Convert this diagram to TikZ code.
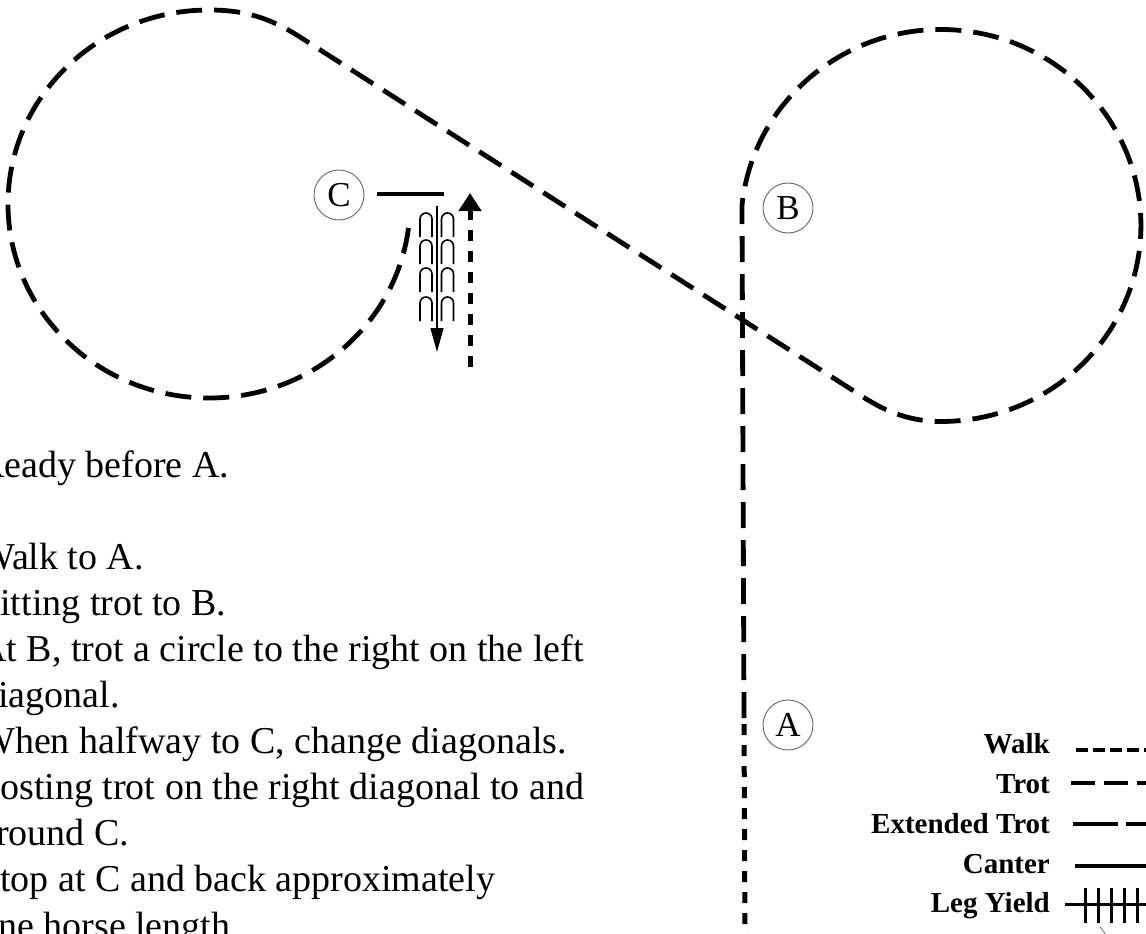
\documentclass[tikz,border=0pt]{standalone}
\usepackage{fontspec}
\setmainfont{Liberation Serif}
\usetikzlibrary{arrows.meta}
\begin{document}
\begin{tikzpicture}[x=1pt,y=-1pt,
 trot/.style={line width=4.8pt, dash pattern=on 26pt off 12pt},
 walk/.style={line width=5pt, dash pattern=on 11pt off 10pt},
 canter/.style={line width=3.5pt},
 letter/.style={circle, draw=black!60, line width=0.9pt, minimum size=50pt, inner sep=0pt, font=\fontsize{35}{40}\selectfont},
 body/.style={anchor=base west, inner sep=0pt, font=\fontsize{38}{44}\selectfont},
 key/.style={anchor=base east, inner sep=0pt, font=\bfseries\fontsize{29}{34}\selectfont},
 keyline/.style={line width=4pt},
 hoof/.style={line width=1.6pt},
]
\useasboundingbox (0,0) rectangle (1146,934);
\fill[white] (0,0) rectangle (1146,934);
\clip (0,0) rectangle (1146,934);

% letter markers
\node[letter] (C) at (339,195) {C};
\node[letter] (B) at (788,208) {B};
\node[letter] (A) at (788,725) {A};

% main path coordinates
\coordinate (bot) at (745,945);
\coordinate (Apt) at (744,718);
\coordinate (Bpt) at (742,205);

% walk up to A
\draw[walk] (bot) -- (Apt);
% trot A to B, circle right, change of rein to left circle
\draw[trot] (Apt) -- (Bpt)
  arc[start angle=186, end angle=450, x radius=200, y radius=196]
  .. controls (905,421.5) and (880,408) .. (860,395)
  -- (300,37)
  .. controls (270,18) and (245,10) .. (209,10)
  arc[start angle=270, end angle=5, x radius=201, y radius=194];

% canter halt line at C
\coordinate (cs) at (377,194);
\coordinate (ce) at (444,194);
\draw[canter] (cs) -- (ce);

% walk arrow upward
\coordinate (wa1) at (470,367);
\coordinate (wa2) at (470,193);
\draw[walk, -{Triangle[width=22pt,length=18pt]}] (wa1) -- (wa2);

% rein back: hoof prints and thin arrow
\foreach \cx in {426,447.5}
  \foreach \ty in {213,240,268,297}
    \draw[hoof] (\cx-6,\ty+24) -- (\cx-6,\ty+6) arc[start angle=180,end angle=360,radius=6] -- (\cx+6,\ty+24);
\coordinate (ba1) at (437,206);
\coordinate (ba2) at (437,352);
\draw[line width=1.4pt, -{Triangle[width=13pt,length=24pt]}] (ba1) -- (ba2);

% instructions text
\node[body] (t1) at (-21,477) {Ready before A.};
\node[body] (t2) at (-21,569) {Walk to A.};
\node[body] (t3) at (-21,615) {Sitting trot to B.};
\node[body] (t4) at (-21,661) {At B, trot a circle to the right on the left};
\node[body] (t5) at (-21,707) {diagonal.};
\node[body] (t6) at (-21,753) {When halfway to C, change diagonals.};
\node[body] (t7) at (-21,799) {Posting trot on the right diagonal to and};
\node[body] (t8) at (-21,845) {around C.};
\node[body] (t9) at (-21,891) {Stop at C and back approximately};
\node[body] (t10) at (-21,938) {one horse length.};

% legend
\node[key] (kw) at (1050,753) {Walk};
\node[key] (kt) at (1050,793) {Trot};
\node[key] (ke) at (1050,833) {Extended Trot};
\node[key] (kc) at (1050,873) {Canter};
\node[key] (kl) at (1050,912) {Leg Yield};
\coordinate (lw1) at (1076,750); \coordinate (lw2) at (1160,750);
\coordinate (lt1) at (1071,783); \coordinate (lt2) at (1160,783);
\coordinate (le1) at (1073,824); \coordinate (le2) at (1160,824);
\coordinate (lc1) at (1075,866); \coordinate (lc2) at (1160,866);
\coordinate (ll1) at (1065,904); \coordinate (ll2) at (1160,904);
\draw[keyline, dash pattern=on 12pt off 5pt] (lw1) -- (lw2);
\draw[keyline, dash pattern=on 24pt off 9pt] (lt1) -- (lt2);
\draw[keyline, dash pattern=on 45pt off 8pt] (le1) -- (le2);
\draw[keyline] (lc1) -- (lc2);
\draw[line width=3pt] (ll1) -- (ll2);
\foreach \tx in {1085,1098,1111,1124,1137}
  \draw[line width=3pt] (\tx,888) -- (\tx,923);
\draw[line width=0.6pt, black!70] (1100,927) -- (1107,936);
\end{tikzpicture}
\end{document}
